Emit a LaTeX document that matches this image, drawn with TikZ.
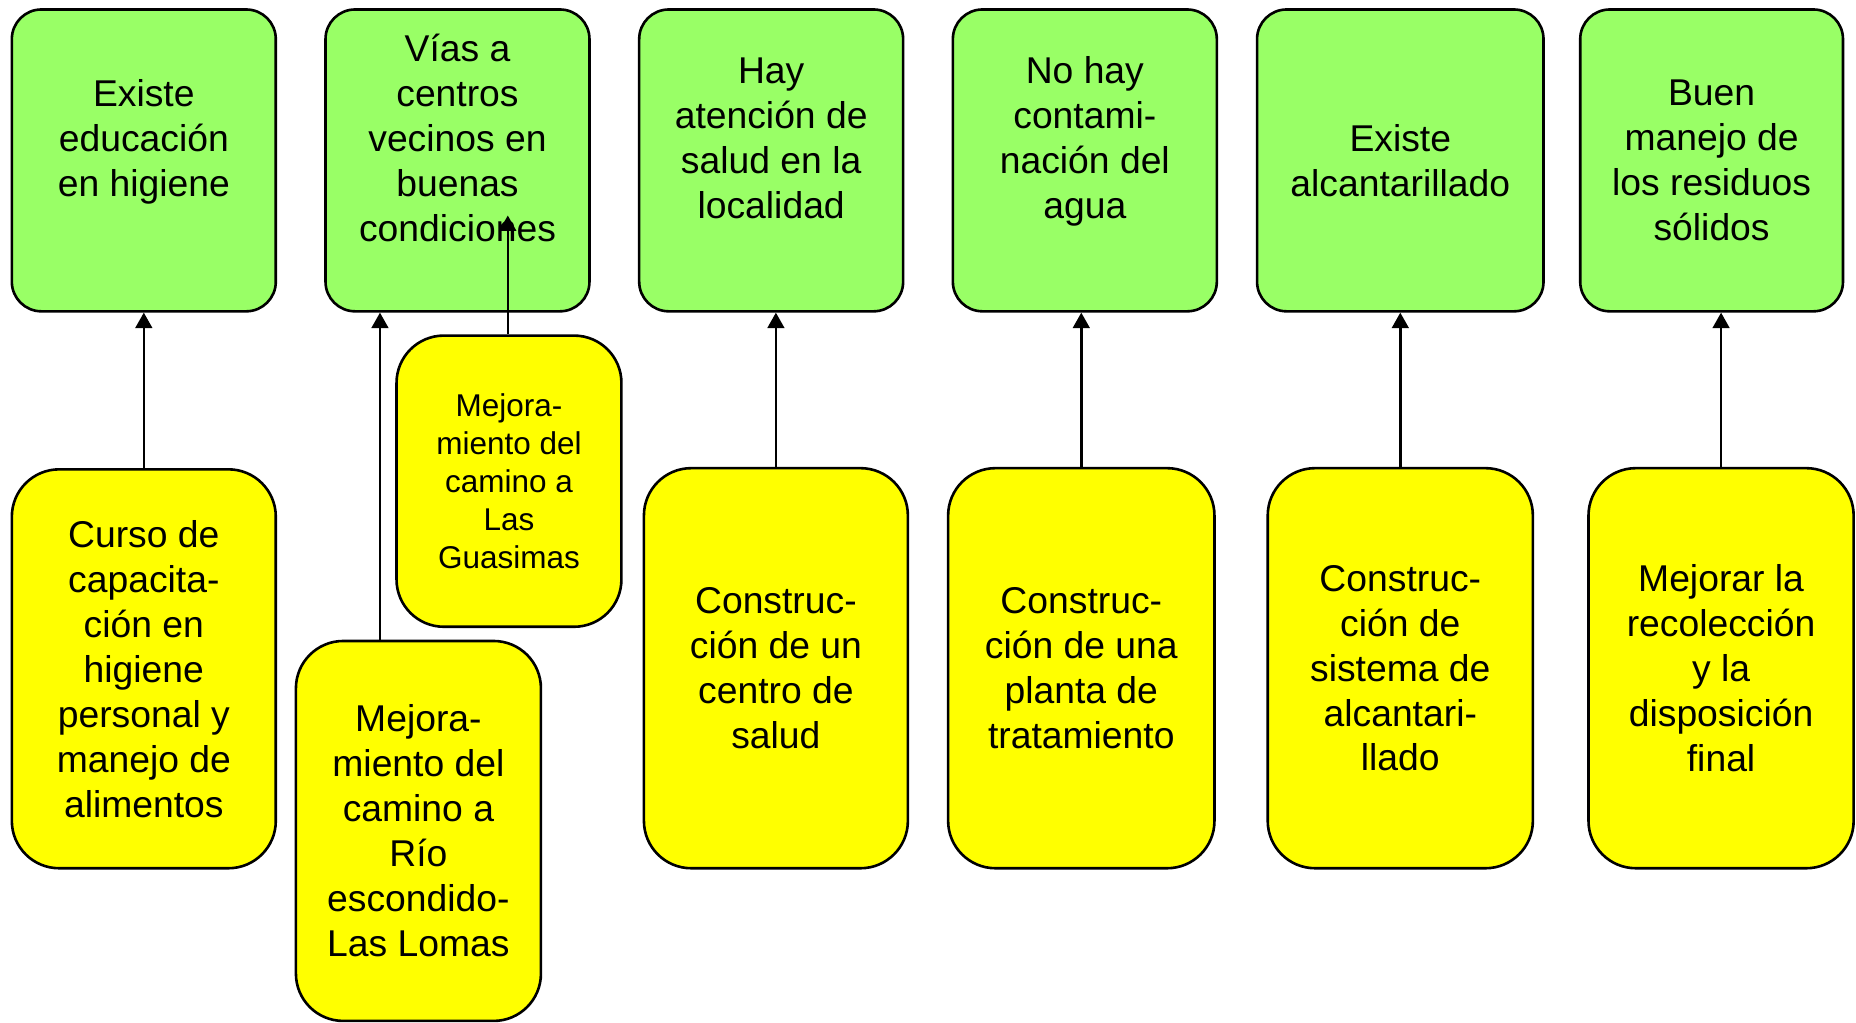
\documentclass[tikz,border=0pt]{standalone}
\usepackage{fontspec}
\setmainfont{Liberation Sans}
\usetikzlibrary{arrows.meta,calc}
\definecolor{gfill}{HTML}{99FF66}
\definecolor{yfill}{HTML}{FFFF00}
\begin{document}
\begin{tikzpicture}[x=0.5pt,y=-0.5pt,
  box/.style={draw=black, line width=1.1pt, rectangle, inner sep=0pt, align=center,
    font=\fontsize{15.75}{19}\selectfont},
  gbox/.style={box, fill=gfill, rounded corners=12.5pt, minimum height=127.5pt},
  ybox/.style={box, fill=yfill, rounded corners=20pt},
  arr/.style={line width=1.1pt, -{Triangle[width=7pt,length=6.5pt]}}]
\useasboundingbox (0,0) rectangle (1568,864);

% green boxes
\node[gbox, minimum width=111.5pt] (g1) at (121.5,135.5) {Existe\\educación\\en higiene\\\mbox{}};
\node[gbox, minimum width=111.5pt] (g2) at (386.5,135.5) {Vías a\\centros\\vecinos en\\buenas\\condiciones\\\mbox{}};
\node[gbox, minimum width=111.5pt] (g3) at (651.5,135.5) {Hay\\atención de\\salud en la\\localidad\\\mbox{}};
\node[gbox, minimum width=111.5pt] (g4) at (916.5,135.5) {No hay\\contami-\\nación del\\agua\\\mbox{}};
\node[gbox, minimum width=121pt] (g5) at (1183,135.5) {Existe\\alcantarillado};
\node[gbox, minimum width=111pt] (g6) at (1446,135.5) {Buen\\manejo de\\los residuos\\sólidos};

% yellow boxes
\node[ybox, minimum width=111.5pt, minimum height=168.5pt] (y1) at (121.5,565) {Curso de\\capacita-\\ción en\\higiene\\personal y\\manejo de\\alimentos};
\node[ybox, minimum width=95pt, minimum height=123pt, font=\fontsize{13.3}{16}\selectfont] (gua) at (430,406.5) {Mejora-\\miento del\\camino a\\Las\\Guasimas};
\node[ybox, minimum width=103.5pt, minimum height=160.5pt] (rio) at (353.5,702) {Mejora-\\miento del\\camino a\\Río\\escondido-\\Las Lomas};
\node[ybox, minimum width=111.5pt, minimum height=169pt] (y3) at (655.5,564.5) {Construc-\\ción de un\\centro de\\salud};
\node[ybox, minimum width=112.5pt, minimum height=169pt] (y4) at (913.5,564.5) {Construc-\\ción de una\\planta de\\tratamiento};
\node[ybox, minimum width=112pt, minimum height=169pt] (y5) at (1183,564.5) {Construc-\\ción de\\sistema de\\alcantari-\\llado};
\node[ybox, minimum width=112pt, minimum height=169pt] (y6) at (1454,564.5) {Mejorar la\\recolección\\y la\\disposición\\final};

% arrows
\draw[arr] (y1.north) -- (y1.north |- g1.south);
\coordinate (a2) at ($(rio.north)+(-32.5,0)$);
\draw[arr] (a2) -- (a2 |- g2.south);
\coordinate (tip) at (429,182);
\draw[arr] (gua.north -| tip) -- (tip);
\draw[arr] (y3.north) -- (y3.north |- g3.south);
\draw[arr] (y4.north) -- (y4.north |- g4.south);
\draw[arr] (y5.north) -- (y5.north |- g5.south);
\draw[arr] (y6.north) -- (y6.north |- g6.south);
\end{tikzpicture}
\end{document}
